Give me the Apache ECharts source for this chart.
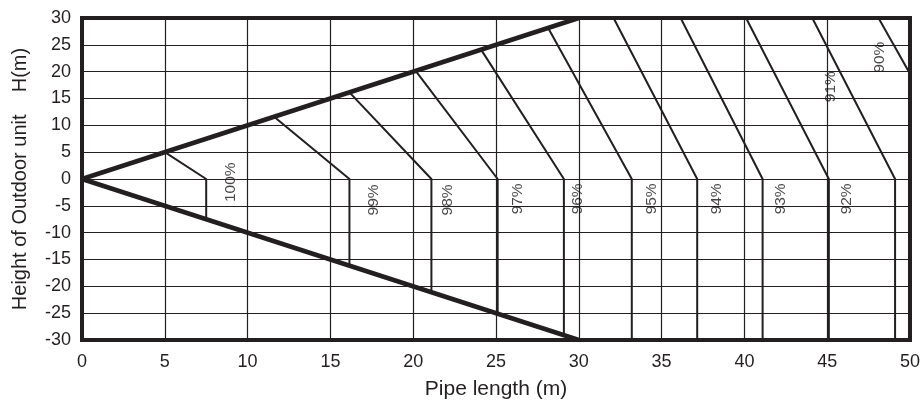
<!DOCTYPE html>
<html>
<head>
<meta charset="utf-8">
<script src="https://cdn.jsdelivr.net/npm/echarts@6/dist/echarts.min.js"></script>
<style>
  html, body { margin: 0; padding: 0; background: #fff; }
  #chart { width: 923px; height: 405px; }
</style>
</head>
<body>
<div id="chart"></div>
<script>
// ---- data ----
const xTicks = [0, 5, 10, 15, 20, 25, 30, 35, 40, 45, 50];
const yTicks = [-30, -25, -20, -15, -10, -5, 0, 5, 10, 15, 20, 25, 30];

const upperBoundary = [[0, 0], [30, 30]];
const lowerBoundary = [[0, 0], [30, -30]];

const curve100 = [[5, 5], [7.5, 0], [7.5, -7.5]];
const curve99 = [[11.6, 11.6], [16.15, 0], [16.15, -16.15]];
const curve98 = [[16.15, 16.15], [21.1, 0], [21.1, -21.1]];
const curve97 = [[20.15, 20.15], [25.1, 0], [25.1, -25.1]];
const curve96 = [[24.1, 24.1], [29.1, 0], [29.1, -29.1]];
const curve95 = [[28.15, 28.15], [33.2, 0], [33.2, -30]];
const curve94 = [[32.1, 30], [37.15, 0], [37.15, -30]];
const curve93 = [[36.15, 30], [41.1, 0], [41.1, -30]];
const curve92 = [[40.1, 30], [45.1, 0], [45.1, -30]];
const curve91 = [[44.1, 30], [49.1, 0], [49.1, -30]];
const curve90 = [[48.1, 30], [50, 19.6]];

const curveLabels = ['100%', '99%', '98%', '97%', '96%', '95%', '94%', '93%', '92%', '91%', '90%'];
const labelPoints = [
  [9.0, -0.6], [17.6, -3.9], [22.1, -3.9], [26.3, -3.7], [29.95, -3.7],
  [34.4, -3.7], [38.3, -3.7], [42.2, -3.7], [46.2, -3.7], [45.2, 17.2], [48.2, 22.7]
];

const xName = 'Pipe length (m)';
const yName = 'Height of Outdoor unit    H(m)';

// ---- chart ----
const INK = '#231f20';
const FONT = '"Liberation Sans", Arial, Helvetica, sans-serif';
const curves = [curve100, curve99, curve98, curve97, curve96, curve95, curve94, curve93, curve92, curve91, curve90];

const series = [];
curves.forEach(function (c, i) {
  series.push({
    name: curveLabels[i],
    type: 'line',
    data: c,
    showSymbol: false,
    silent: true,
    lineStyle: { color: INK, width: 2 },
    z: 3
  });
});
[upperBoundary, lowerBoundary].forEach(function (b) {
  series.push({
    type: 'line',
    data: b,
    showSymbol: false,
    silent: true,
    lineStyle: { color: INK, width: 4.5 },
    z: 4
  });
});
series.push({
  type: 'scatter',
  data: labelPoints,
  symbolSize: 0,
  silent: true,
  z: 5,
  label: {
    show: true,
    position: 'inside',
    rotate: 90,
    color: '#1a1718',
    fontFamily: FONT,
    fontSize: 15.5,
    formatter: function (p) { return curveLabels[p.dataIndex]; }
  }
});

const chart = echarts.init(document.getElementById('chart'), null, { renderer: 'canvas' });
chart.setOption({
  animation: false,
  backgroundColor: '#ffffff',
  grid: {
    left: 82, right: 12, top: 18, bottom: 64,
    show: true, borderColor: INK, borderWidth: 4, backgroundColor: 'transparent',
    containLabel: false
  },
  xAxis: {
    type: 'value',
    min: xTicks[0], max: xTicks[xTicks.length - 1], interval: 5,
    name: xName, nameLocation: 'middle', nameGap: 39,
    nameTextStyle: { color: INK, fontFamily: FONT, fontSize: 21 },
    axisLine: { show: false },
    axisTick: { show: false },
    axisLabel: { color: INK, fontFamily: FONT, fontSize: 18, margin: 13 },
    splitLine: { show: true, lineStyle: { color: INK, width: 1.2 } }
  },
  yAxis: {
    type: 'value',
    min: yTicks[0], max: yTicks[yTicks.length - 1], interval: 5,
    name: yName, nameLocation: 'middle', nameGap: 52, nameRotate: 90,
    nameTextStyle: { color: INK, fontFamily: FONT, fontSize: 20 },
    axisLine: { show: false },
    axisTick: { show: false },
    axisLabel: { color: INK, fontFamily: FONT, fontSize: 18, margin: 11 },
    splitLine: { show: true, lineStyle: { color: INK, width: 1.2 } }
  },
  series: series
});
</script>
</body>
</html>
